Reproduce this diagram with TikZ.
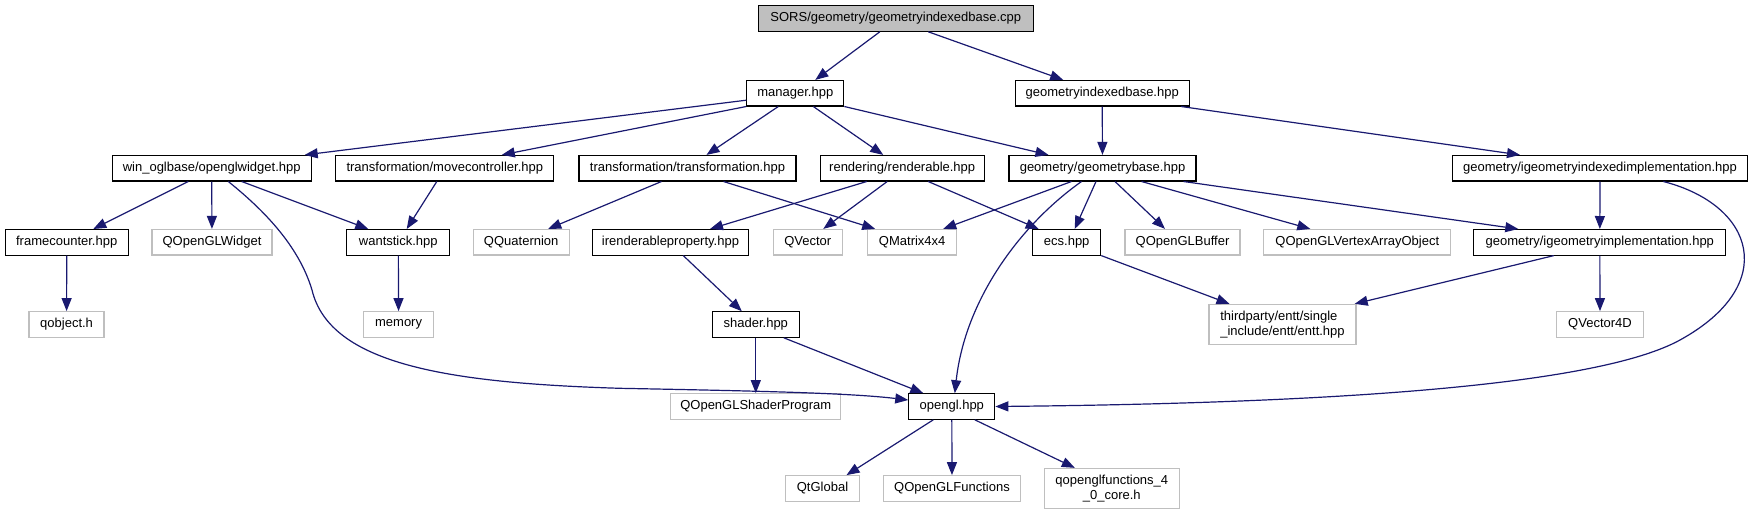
\documentclass[tikz,border=0pt]{standalone}
\usepackage{fontspec}
\setmainfont{Liberation Sans}
\usetikzlibrary{arrows.meta}
\definecolor{edgeblue}{HTML}{191970}
\definecolor{sysgray}{HTML}{BFBFBF}
\tikzset{
  hdr/.style={rectangle, draw=black, fill=white, line width=1.1pt, align=center,
              minimum height=25.5pt, inner xsep=2pt, inner ysep=0pt,
              font=\fontsize{13}{14.5}\selectfont},
  sys/.style={hdr, draw=sysgray, line width=1.3pt},
  src/.style={hdr, fill=sysgray},
  arr/.style={-{Triangle[length=13pt,width=10pt]}, draw=edgeblue, line width=1.2pt},
}

\begin{document}
\begin{tikzpicture}[x=1pt, y=-1pt]
  \useasboundingbox (0,0) rectangle (1753,515);
  \node[src, minimum width=275pt]   (cpp)   at (895.8,18.5)  {SORS/geometry/geometryindexedbase.cpp};
  \node[hdr, minimum width=97pt]    (man)   at (795.3,93.2)  {manager.hpp};
  \node[hdr, minimum width=174pt]   (gib)   at (1102.2,93.2) {geometryindexedbase.hpp};
  \node[hdr, minimum width=199pt]   (win)   at (211.7,168.2) {win\_oglbase/openglwidget.hpp};
  \node[hdr, minimum width=218pt]   (move)  at (444.8,168.2) {transformation/movecontroller.hpp};
  \node[hdr, minimum width=217pt]   (trans) at (687.5,168.2) {transformation/transformation.hpp};
  \node[hdr, minimum width=164pt]   (rend)  at (902.2,168.2) {rendering/renderable.hpp};
  \node[hdr, minimum width=187pt]   (gb)    at (1102.5,168.2) {geometry/geometrybase.hpp};
  \node[hdr, minimum width=295pt]   (igx)   at (1600,168.2)  {geometry/igeometryindexedimplementation.hpp};
  \node[hdr, minimum width=123pt]   (frame) at (66.7,242.3)  {framecounter.hpp};
  \node[sys, minimum width=120pt]   (qglw)  at (212,242.3)   {QOpenGLWidget};
  \node[hdr, minimum width=103pt]   (want)  at (398.3,242.3) {wantstick.hpp};
  \node[sys, minimum width=96pt]    (qquat) at (521.2,242.3) {QQuaternion};
  \node[hdr, minimum width=156pt]   (irp)   at (670.5,242.3) {irenderableproperty.hpp};
  \node[sys, minimum width=69pt]    (qvec)  at (807.8,242.3) {QVector};
  \node[sys, minimum width=89pt]    (qmat)  at (912.2,242.3) {QMatrix4x4};
  \node[hdr, minimum width=68pt]    (ecs)   at (1066.7,242.3) {ecs.hpp};
  \node[sys, minimum width=115pt]   (qbuf)  at (1182.5,242.3) {QOpenGLBuffer};
  \node[sys, minimum width=187pt]   (vao)   at (1357.3,242.3) {QOpenGLVertexArrayObject};
  \node[hdr, minimum width=252pt]   (igi)   at (1599.8,242.3) {geometry/igeometryimplementation.hpp};
  \node[sys, minimum width=75pt]    (qobj)  at (66.6,324.5)  {qobject.h};
  \node[sys, minimum width=70pt]    (mem)   at (398.6,324.5) {memory};
  \node[hdr, minimum width=87pt]    (shader) at (755.8,324.5) {shader.hpp};
  \node[sys, minimum width=147pt, minimum height=40pt, align=left] (entt) at (1282.5,324.5) {thirdparty/entt/single\\\_include/entt/entt.hpp};
  \node[sys, minimum width=87pt]    (qv4d)  at (1600,324.5)  {QVector4D};
  \node[sys, minimum width=170pt]   (qsp)   at (755.8,406.5) {QOpenGLShaderProgram};
  \node[hdr, minimum width=86pt]    (gl)    at (951.8,406.5) {opengl.hpp};
  \node[sys, minimum width=74pt]    (qtg)   at (822.5,488.5) {QtGlobal};
  \node[sys, minimum width=137pt]   (qglf)  at (952,488.5)   {QOpenGLFunctions};
  \node[sys, minimum width=135pt, minimum height=40pt] (gl40) at (1111.8,488.5) {qopenglfunctions\_4\\\_0\_core.h};

  \draw[arr] ([xshift=-16pt]cpp.south) -- ([xshift=20pt]man.north);
  \draw[arr] ([xshift=32.5pt]cpp.south) -- ([xshift=-39pt]gib.north);
  \draw[arr] ([yshift=-7pt]man.west) -- ([xshift=93pt]win.north);
  \draw[arr] (man.south west) -- ([xshift=57pt]move.north);
  \draw[arr] ([xshift=-17pt]man.south) -- ([xshift=19pt]trans.north);
  \draw[arr] ([xshift=18pt]man.south) -- ([xshift=-19pt]rend.north);
  \draw[arr] (man.south east) -- ([xshift=-54pt]gb.north);
  \draw[arr] (gib) -- (gb);
  \draw[arr] ([xshift=79pt]gib.south) -- ([xshift=-80pt]igx.north);
  \draw[arr] ([xshift=-23.4pt]win.south) -- ([xshift=26.6pt]frame.north);
  \draw[arr] (win) -- (qglw);
  \draw[arr] ([xshift=30pt]win.south) -- ([xshift=-30pt]want.north);
  \draw[arr] ([xshift=16.6pt]win.south) .. controls (270,215) and (300,250) .. (312,290)
             .. controls (330,365) and (450,383) .. (620,388.3)
             .. controls (760,391) and (850,393) .. ([yshift=6.5pt]gl.west);
  \draw[arr] ([xshift=-8pt]move.south) -- ([xshift=8.4pt]want.north);
  \draw[arr] ([xshift=-26pt]trans.south) -- ([xshift=27pt]qquat.north);
  \draw[arr] ([xshift=36pt]trans.south) -- ([xshift=-37pt]qmat.north);
  \draw[arr] ([xshift=-35.5pt]rend.south) -- ([xshift=39.5pt]irp.north);
  \draw[arr] ([xshift=-15pt]rend.south) -- ([xshift=15.5pt]qvec.north);
  \draw[arr] ([xshift=26pt]rend.south) -- ([xshift=-28pt]ecs.north);
  \draw[arr] ([xshift=-31pt]gb.south) -- ([xshift=31pt]qmat.north);
  \draw[arr] ([xshift=-21pt]gb.south) .. controls (1020,225) and (965,300) .. ([xshift=3pt]gl.north);
  \draw[arr] ([xshift=-6.5pt]gb.south) -- ([xshift=8pt]ecs.north);
  \draw[arr] ([xshift=12.5pt]gb.south) -- ([xshift=-17.5pt]qbuf.north);
  \draw[arr] ([xshift=39pt]gb.south) -- ([xshift=-47pt]vao.north);
  \draw[arr] ([xshift=81pt]gb.south) -- ([xshift=-81.5pt]igi.north);
  \draw[arr] (igx) -- (igi);
  \draw[arr] ([xshift=63.3pt]igx.south) .. controls (1755,205) and (1780,285) .. (1680,340)
             .. controls (1600,384) and (1350,403) .. (gl.east);
  \draw[arr] ([xshift=-46pt]igi.south) -- ([xshift=-2pt]entt.north east);
  \draw[arr] (igi) -- (qv4d);
  \draw[arr] (ecs.south east) -- ([xshift=-53pt]entt.north);
  \draw[arr] (frame) -- (qobj);
  \draw[arr] (want) -- (mem);
  \draw[arr] ([xshift=12.8pt]irp.south) -- ([xshift=-14pt]shader.north);
  \draw[arr] (shader) -- (qsp);
  \draw[arr] ([xshift=28pt]shader.south) -- ([xshift=-28.5pt]gl.north);
  \draw[arr] ([xshift=-18.5pt]gl.south) -- ([xshift=24pt]qtg.north);
  \draw[arr] (gl) -- (qglf);
  \draw[arr] ([xshift=23pt]gl.south) -- ([xshift=-37pt]gl40.north);
\end{tikzpicture}
\end{document}
